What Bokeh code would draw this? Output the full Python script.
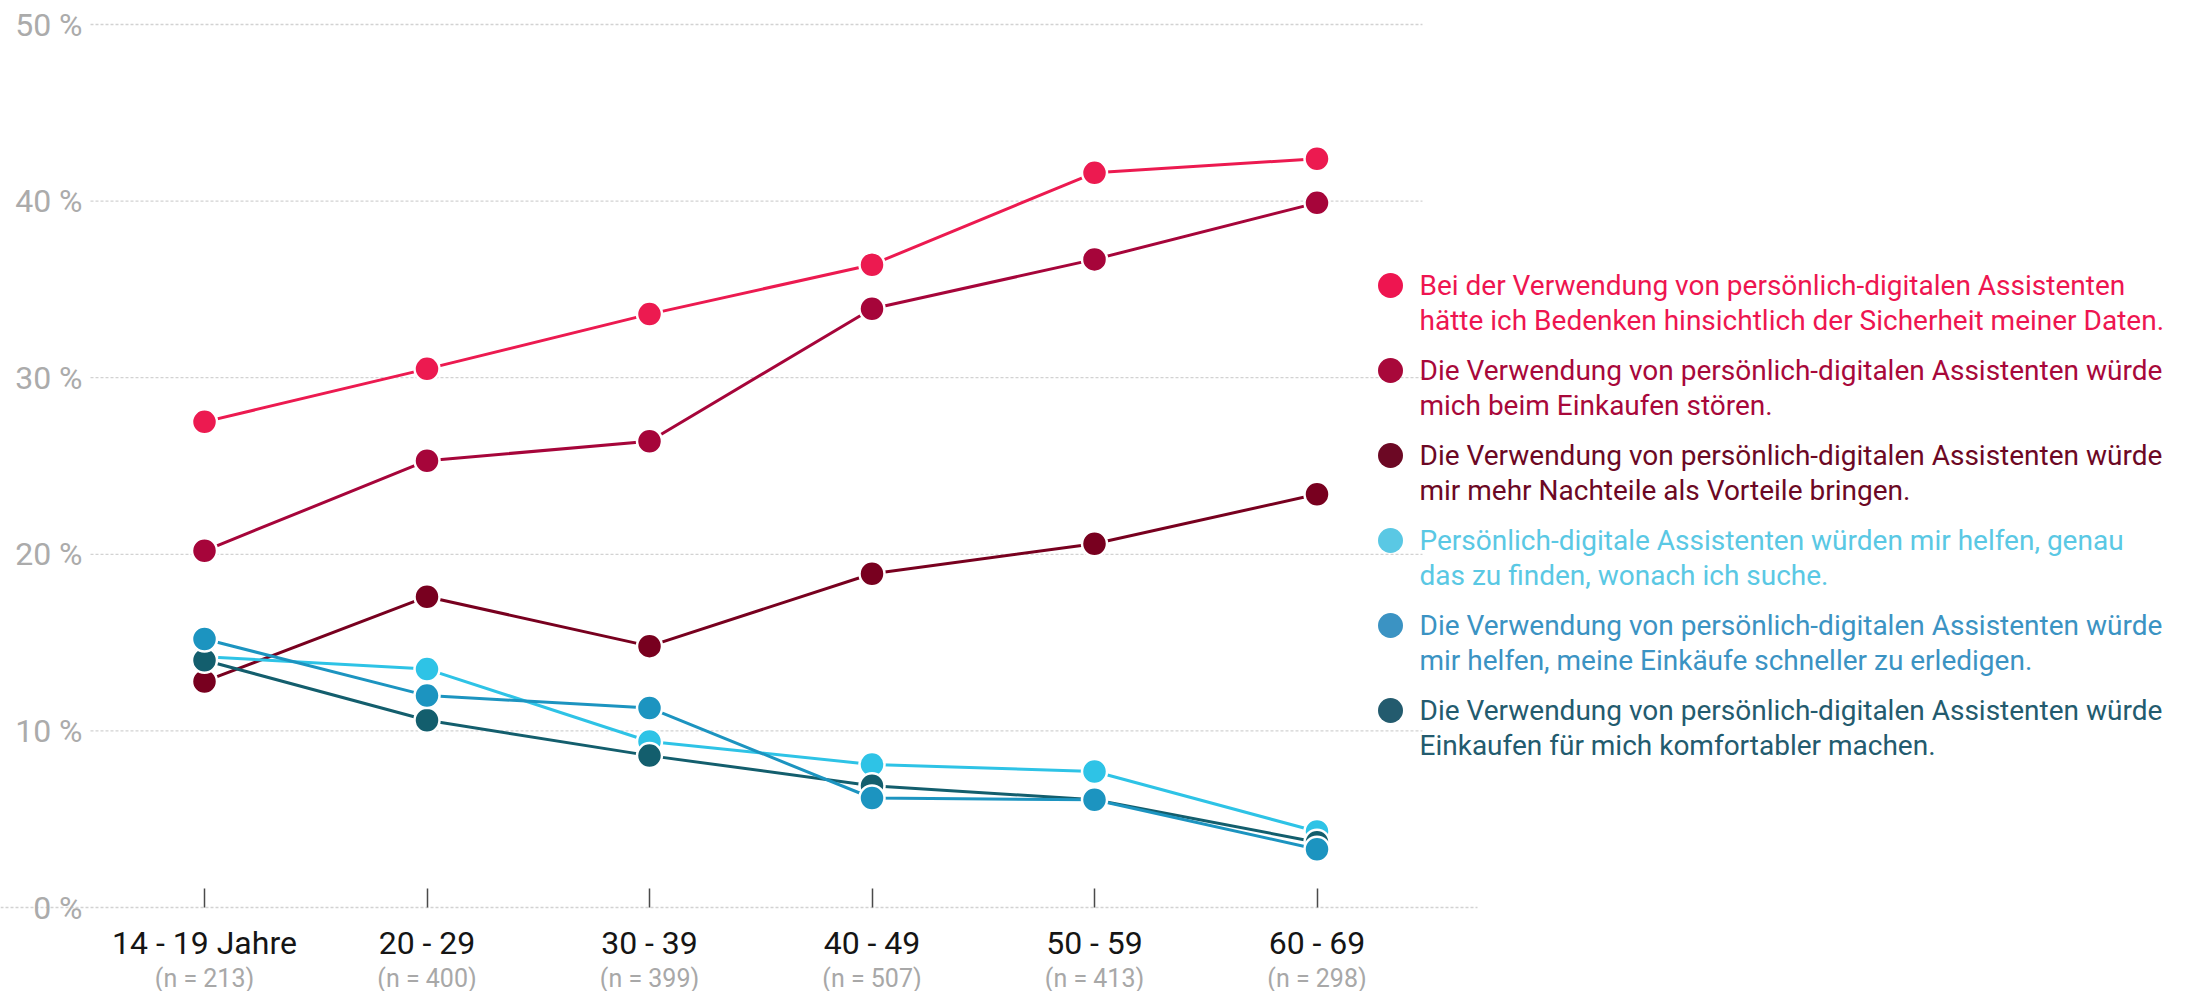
from bokeh.plotting import figure
from bokeh.models import Range1d, LinearAxis, FixedTicker
from bokeh.core.properties import value
from bokeh.embed import file_html
from bokeh.resources import INLINE

# Age groups and sample sizes
age_groups = ["14 - 19 Jahre", "20 - 29", "30 - 39", "40 - 49", "50 - 59", "60 - 69"]
sample_sizes = ["(n = 213)", "(n = 400)", "(n = 399)", "(n = 507)", "(n = 413)", "(n = 298)"]

# Share of agreement per age group (%)
sicherheit = [27.5, 30.5, 33.6, 36.4, 41.6, 42.4]
stoeren = [20.2, 25.3, 26.4, 33.9, 36.7, 39.9]
nachteile = [12.8, 17.6, 14.8, 18.9, 20.6, 23.4]
finden = [14.2, 13.5, 9.4, 8.1, 7.7, 4.3]
schneller = [15.2, 12.0, 11.3, 6.2, 6.1, 3.3]
komfortabler = [14.0, 10.6, 8.6, 6.9, 6.1, 3.7]

y_ticks = [0, 10, 20, 30, 40, 50]
y_tick_labels = ["0 %", "10 %", "20 %", "30 %", "40 %", "50 %"]

legend_first = [
    "Bei der Verwendung von persönlich-digitalen Assistenten",
    "Die Verwendung von persönlich-digitalen Assistenten würde",
    "Die Verwendung von persönlich-digitalen Assistenten würde",
    "Persönlich-digitale Assistenten würden mir helfen, genau",
    "Die Verwendung von persönlich-digitalen Assistenten würde",
    "Die Verwendung von persönlich-digitalen Assistenten würde",
]
legend_second = [
    "hätte ich Bedenken hinsichtlich der Sicherheit meiner Daten.",
    "mich beim Einkaufen stören.",
    "mir mehr Nachteile als Vorteile bringen.",
    "das zu finden, wonach ich suche.",
    "mir helfen, meine Einkäufe schneller zu erledigen.",
    "Einkaufen für mich komfortabler machen.",
]

series = [sicherheit, stoeren, nachteile, finden, schneller, komfortabler]
line_colors = ["#EC1A50", "#A6053A", "#78001F", "#2EC3E6", "#1C94C0", "#135E6D"]
legend_colors = ["#EE1550", "#A8083A", "#6C0824", "#5AC8E4", "#3B93C3", "#235B6E"]
draw_order = [0, 1, 2, 3, 5, 4]

W, H = 2185, 991
X0_PX, X_STEP = 204.0, 222.5      # pixel of first category, spacing
Y0_PX, Y_UNIT = 907.0, 17.66      # pixel of 0 %, pixels per percent


def px_x(px):
    return (px - X0_PX) / X_STEP


def px_y(py):
    return (Y0_PX - py) / Y_UNIT


p = figure(width=W, height=H, output_backend="svg", toolbar_location=None,
           x_range=Range1d(px_x(0), px_x(W)), y_range=Range1d(px_y(H), px_y(0)),
           x_axis_type=None, y_axis_type=None, min_border=0,
           outline_line_color=None, background_fill_color="white")
p.xgrid.visible = False
p.ygrid.visible = False

FONT = "Roboto"

# dotted horizontal guides
upper = y_ticks[1:]
p.segment(x0=[px_x(90)] * len(upper), y0=upper, x1=[px_x(1422)] * len(upper), y1=upper,
          line_color="#D2D2D2", line_width=1.3, line_dash="3 2")
p.segment(x0=[px_x(0)], y0=[y_ticks[0]], x1=[px_x(1477)], y1=[y_ticks[0]],
          line_color="#D2D2D2", line_width=1.3, line_dash="3 2")

# y axis: percentage labels
yax = LinearAxis(fixed_location=px_x(90), ticker=FixedTicker(ticks=y_ticks),
                 major_label_overrides={t: l for t, l in zip(y_ticks, y_tick_labels)})
yax.axis_line_color = None
yax.major_tick_line_color = None
yax.minor_tick_line_color = None
yax.major_tick_in = 0
yax.major_tick_out = 0
yax.major_label_standoff = 8
yax.major_label_text_font = FONT
yax.major_label_text_font_size = "32px"
yax.major_label_text_color = "#ABABAB"
p.add_layout(yax, "left")

xs = list(range(len(age_groups)))

# x axis: age group labels with small upward ticks
xax = LinearAxis(fixed_location=0, ticker=FixedTicker(ticks=xs),
                 major_label_overrides={i: g for i, g in zip(xs, age_groups)})
xax.axis_line_color = None
xax.minor_tick_line_color = None
xax.major_tick_in = 19
xax.major_tick_out = 0
xax.major_tick_line_color = "#4A4A4A"
xax.major_tick_line_width = 1.5
xax.major_label_standoff = 16
xax.major_label_text_font = FONT
xax.major_label_text_font_size = "32px"
xax.major_label_text_color = "#151515"
p.add_layout(xax, "below")

# second x axis: sample sizes
nax = LinearAxis(fixed_location=0, ticker=FixedTicker(ticks=xs),
                 major_label_overrides={i: n for i, n in zip(xs, sample_sizes)})
nax.axis_line_color = None
nax.minor_tick_line_color = None
nax.major_tick_line_color = None
nax.major_tick_in = 0
nax.major_tick_out = 0
nax.major_label_standoff = 56
nax.major_label_text_font = FONT
nax.major_label_text_font_size = "25px"
nax.major_label_text_color = "#A8A8A8"
p.add_layout(nax, "below")

# series lines with white-ringed markers
for k in draw_order:
    p.line(xs, series[k], line_color=line_colors[k], line_width=3)
    p.scatter(xs, series[k], size=25, fill_color=line_colors[k],
              line_color="white", line_width=2.5)

# legend
LEG_DOT_X, LEG_TEXT_X = 1390, 1419
LEG_Y0, LEG_STEP, LEG_LINE = 285, 85, 35
for k in range(len(series)):
    y1 = LEG_Y0 + k * LEG_STEP
    p.scatter([px_x(LEG_DOT_X)], [px_y(y1)], size=25, fill_color=legend_colors[k],
              line_color=None)
    p.text([px_x(LEG_TEXT_X)], [px_y(y1)], text=[legend_first[k]],
           text_color=legend_colors[k], text_font=value(FONT),
           text_font_size="28px", text_baseline="middle", text_align="left")
    p.text([px_x(LEG_TEXT_X)], [px_y(y1 + LEG_LINE)], text=[legend_second[k]],
           text_color=legend_colors[k], text_font=value(FONT),
           text_font_size="28px", text_baseline="middle", text_align="left")

open("out.html", "w").write(file_html(p, INLINE))
